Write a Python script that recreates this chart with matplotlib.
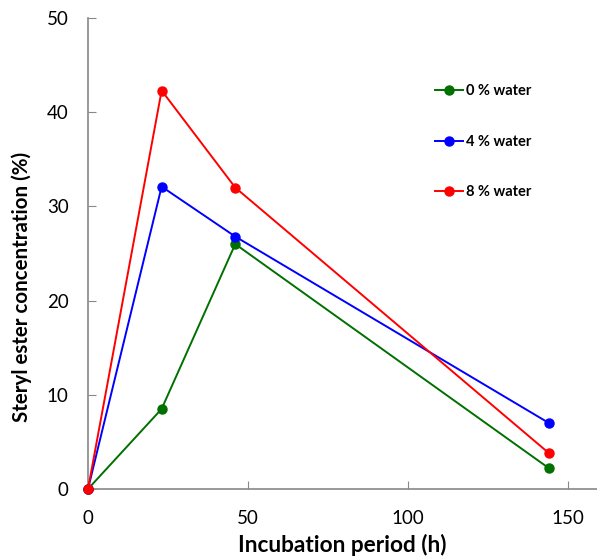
import matplotlib
matplotlib.use("Agg")
import matplotlib.pyplot as plt

plt.rcParams['font.family'] = ['Lato', 'DejaVu Sans']

hours = [0, 23, 46, 144]
water0 = [0, 8.5, 26.0, 2.2]
water4 = [0, 32.1, 26.8, 7.0]
water8 = [0, 42.3, 32.0, 3.8]
labels = ['0 % water', '4 % water', '8 % water']
colors = ['#007000', '#0000FF', '#FF0000']

fig = plt.figure(figsize=(5.97, 5.58), dpi=100)
ax = fig.add_axes([88/597, 1-489/558, (597-88)/597, (489-18)/558])

for ys, lab, c in zip([water0, water4, water8], labels, colors):
    ax.plot(hours, ys, color=c, lw=1.4, marker='o', ms=6.5, label=lab, clip_on=False, zorder=3)

ax.set_xlim(0, 159)
ax.set_ylim(0, 50)
ax.set_xticks([0, 50, 100, 150])
ax.set_yticks([0, 10, 20, 30, 40, 50])
for s in ['top', 'right']:
    ax.spines[s].set_visible(False)
for s in ['left', 'bottom']:
    ax.spines[s].set_color('#888888')
    ax.spines[s].set_linewidth(1.2)
ax.tick_params(direction='in', length=6, color='#888888', labelsize=13.5)
ax.tick_params(axis='x', pad=15)
ax.tick_params(axis='y', pad=14)
ax.set_xlabel('Incubation period (h)', fontsize=16.3, fontweight='bold', labelpad=5)
ax.set_ylabel('Steryl ester concentration (%)', fontsize=14.8, fontweight='bold')
ax.yaxis.set_label_coords(-0.11, 0.43)

leg = ax.legend(loc='upper left', bbox_to_anchor=(0.656, 0.887), frameon=False,
                prop={'weight': 'bold', 'size': 10.5}, labelspacing=2.49,
                handlelength=1.9, handletextpad=0.25, markerscale=1.0)

fig.savefig('out.png', dpi=100)
